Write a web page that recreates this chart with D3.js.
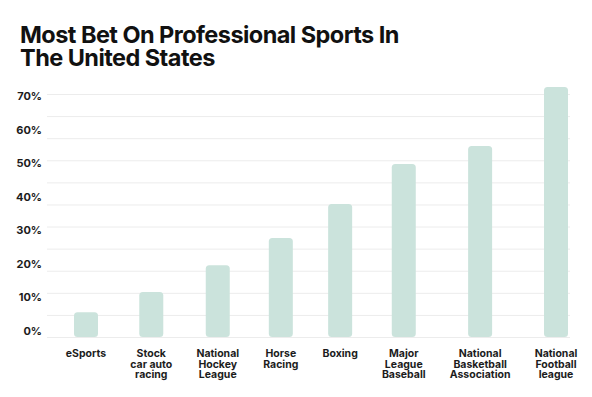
<!DOCTYPE html>
<html>
<head>
<meta charset="utf-8">
<script src="https://cdn.jsdelivr.net/npm/d3@7"></script>
<style>
  html, body { margin: 0; padding: 0; background: #fff; }
  svg { display: block; font-family: Inter, "Open Sans", sans-serif; }
</style>
</head>
<body>
<svg id="chart" width="592" height="397"></svg>
<script>
const titleLines = ["Most Bet On Professional Sports In", "The United States"];
const categories = [
  ["eSports"],
  ["Stock", "car auto", "racing"],
  ["National", "Hockey", "League"],
  ["Horse", "Racing"],
  ["Boxing"],
  ["Major", "League", "Baseball"],
  ["National", "Basketball", "Association"],
  ["National", "Football", "league"]
];
const values = [7.4, 13.4, 21.4, 29.5, 39.6, 51.5, 56.9, 74.5];
const yTicks = [0, 10, 20, 30, 40, 50, 60, 70];
const gridCount = 12;

const width = 592;
const height = 397;
const margin = { top: 102, bottom: 60, left: 47, right: 22 };
const barColor = "#cbe3dc";
const textColor = "#1c1c1c";

const svg = d3.select("#chart");

// title
svg.append("text")
  .attr("x", 20)
  .attr("y", 43)
  .attr("font-size", 23.5)
  .attr("font-weight", 700)
  .attr("fill", "#111")
  .attr("letter-spacing", -0.55)
  .selectAll("tspan")
  .data(titleLines)
  .join("tspan")
  .attr("x", 20)
  .attr("dy", (d, i) => (i === 0 ? 0 : 23))
  .text((d) => d);

const y = d3.scaleLinear().domain([0, 70]).range([height - margin.bottom, margin.top]);
const gridY = d3.scaleLinear().domain([0, gridCount - 1]).range([y(0), 94]);

// gridlines
svg.append("g")
  .selectAll("line")
  .data(d3.range(gridCount))
  .join("line")
  .attr("x1", margin.left)
  .attr("x2", width - margin.right)
  .attr("y1", (d) => gridY(d) + 0.5)
  .attr("y2", (d) => gridY(d) + 0.5)
  .attr("stroke", "#ececec")
  .attr("stroke-width", 1);

// y labels
svg.append("g")
  .selectAll("text")
  .data(yTicks)
  .join("text")
  .attr("x", 42)
  .attr("y", (d) => y(d) - 2)
  .attr("text-anchor", "end")
  .attr("font-size", 11)
  .attr("font-weight", 700)
  .attr("fill", textColor)
  .text((d) => d + "%");

// x labels, laid out by their widths
const labels = svg.append("g")
  .selectAll("text")
  .data(categories)
  .join("text")
  .attr("y", 357)
  .attr("text-anchor", "middle")
  .attr("font-size", 10.5)
  .attr("font-weight", 700)
  .attr("fill", textColor);

labels.selectAll("tspan")
  .data((d) => d)
  .join("tspan")
  .attr("dy", (d, i) => (i === 0 ? 0 : 10.5))
  .text((d) => d);

const labelWidths = [];
labels.each(function () {
  let w = 0;
  d3.select(this).selectAll("tspan").each(function () {
    w = Math.max(w, this.getComputedTextLength());
  });
  labelWidths.push(w);
});

const gap = 24;
const offsets = [labelWidths[0] / 2];
for (let i = 1; i < labelWidths.length; i++) {
  offsets.push(offsets[i - 1] + (labelWidths[i - 1] + labelWidths[i]) / 2 + gap);
}
const x = d3.scaleLinear().domain([offsets[0], offsets[offsets.length - 1]]).range([86, 556]);
const barWidth = 24;

labels.each(function (d, i) {
  d3.select(this).selectAll("tspan").attr("x", x(offsets[i]));
});

// bars
svg.append("g")
  .selectAll("rect")
  .data(values)
  .join("rect")
  .attr("x", (d, i) => x(offsets[i]) - barWidth / 2)
  .attr("y", (d) => y(d))
  .attr("width", barWidth)
  .attr("height", (d) => y(0) - y(d))
  .attr("rx", 3.5)
  .attr("fill", barColor);
</script>
</body>
</html>
